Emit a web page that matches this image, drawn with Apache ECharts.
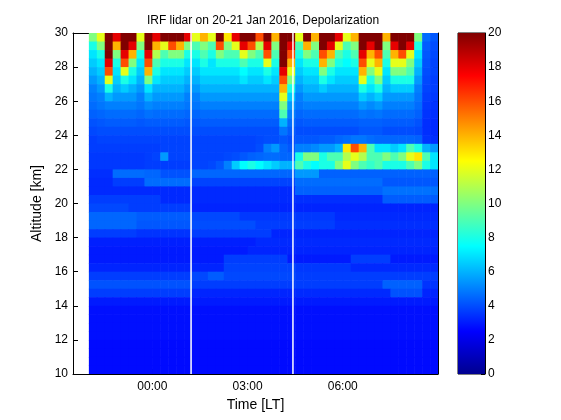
<!DOCTYPE html>
<html>
<head>
<meta charset="utf-8">
<script src="https://cdn.jsdelivr.net/npm/echarts@6/dist/echarts.min.js"></script>
<style>html,body{margin:0;background:#fff}#chart{width:561px;height:420px}</style>
</head>
<body>
<div id="chart"></div>
<script>
// time bins (hours from midnight, LT), 15 min wide, start of each bin
var times = [-2,-1.75,-1.5,-1.25,-1,-0.75,-0.5,-0.25,0,0.25,
  0.5,0.75,1,1.25,1.5,1.75,2,2.25,2.5,2.75,
  3,3.25,3.5,3.75,4,4.25,4.5,4.75,5,5.25,
  5.5,5.75,6,6.25,6.5,6.75,7,7.25,7.5,7.75,
  8,8.25,8.5,8.75]
var dT = 0.25
// altitude bins (km), bottom of each bin, top row first
var alts = [29.5,29,28.5,28,27.5,27,26.5,26,25.5,25,
  24.5,24,23.5,23,22.5,22,21.5,21,20.5,20,
  19.5,19,18.5,18,17.5,17,16.5,16,15.5,15,
  14.5,14,13.5,13,12.5,12,11.5,11,10.5,10]
var dAlt = 0.5
// gaps in the record (hours)
var gapTimes = [1.22, 4.43]
var xTicks = [0, 3, 6]
var cbarTicks = [0, 20]

// depolarization, one row per altitude bin (same order as alts)
var depol = [
  [10,12,20,18,20,20,12,20,18,20, 20,20,18,12,14,12,20,13,18,20, 20,16,20,14,20,20,12,20,14,20, 20,18,12,14,20,20,20,14,20,20, 20,10,4.6,4.2],
  [8,10,20,14,20,18,10,20,14,12, 16,14,10,9,10,9,16,10,12,18, 16,11,18,10,20,18,9,14,10,20, 18,12,9,10,20,18,20,10,18,20, 18,8,4.3,4],
  [7,8,20,10,18,14,8,18,11,9, 10,10,8,8,9,8,10,9,9,12, 10,9,16,9,20,16,8,10,9,16, 14,9,8,9,18,14,16,9,14,16, 12,7,4.2,3.9],
  [6.5,7,18,8,16,10,7,16,9,8, 8,8,7,7,8,7,8,8,8,9, 8,8,12,8,20,14,7,8,8,14, 10,8,7.5,8,16,12,14,8,12,12, 10,6.5,4.1,3.8],
  [6,6.5,16,7,12,8,6.5,14,8,7, 7,7,6.5,6.5,7,7,7,7,7,7.5, 7,7,8,7,18,12,6.5,7,7,10, 8,7,7,7,14,10,12,7,10,10, 9,6,4,3.8],
  [5.5,6,12,6.5,8,7,6,10,7,6.5, 6.5,6.5,6,6,6.5,6.5,6.5,6.5,6.5,7, 6.5,6.5,7,6.5,16,10,6,6.5,6.5,8, 7,6.5,6.5,6.5,12,8,10,6.5,8,8, 8,5.5,3.9,3.7],
  [5,5.5,8,6,6.5,6,5.5,7,6,6, 6,6,5.5,5.5,6,6,6,6,6,6, 6,6,6,6,14,8,5.5,6,6,6.5, 6,6,6,6,8,7,8,6,6.5,6.5, 6.5,5,3.8,3.7],
  [4.8,5,6,5.5,5.5,5.5,5,6,5.5,5.5, 5.5,5.5,5,5,5.5,5.5,5.5,5.5,5.5,5.5, 5.5,5.5,5.5,5.5,12,6.5,5,5.5,5.5,5.5, 5.5,5.5,5.5,5.5,6.5,6,6.5,5.5,5.5,5.5, 5.5,4.8,3.7,3.6],
  [4.6,4.8,5,5,5,5,4.8,5.2,5,5, 5,5,4.8,4.8,5,5,5,5,5,5, 5,5,5,5,10,5.5,4.8,5,5,5, 5,5,5,5,5.5,5.2,5.5,5,5,5, 5,4.6,3.6,3.5],
  [4.4,4.5,4.6,4.6,4.6,4.6,4.5,4.7,4.6,4.6, 4.6,4.6,4.5,4.5,4.6,4.6,4.6,4.6,4.6,4.6, 4.6,4.6,4.6,4.6,9,5,4.5,4.6,4.6,4.6, 4.6,4.6,4.6,4.6,4.8,4.7,4.8,4.6,4.6,4.6, 4.6,4.4,3.5,3.4],
  [4.1,4.2,4.3,4.3,4.3,4.3,4.2,4.3,4.3,4.3, 4.3,4.3,4.2,4.2,4.3,4.3,4.3,4.3,4.3,4.3, 4.3,4.3,4.3,4.3,6,4.6,4.2,4.3,4.3,4.3, 4.3,4.3,4.3,4.3,4.4,4.4,4.4,4.3,4.3,4.3, 4.3,4.1,3.4,3.3],
  [3.9,4,4,4,4,4,4,4,4,4, 4,4,4,4,4,4,4,4,4,4, 4,4,4,4,4.8,4.3,4,4,4,4, 4,4,4,4,4.2,4.2,4.2,4,4,4, 4,3.9,3.4,3.3],
  [3.7,3.8,3.8,3.8,3.8,3.8,3.8,3.8,3.8,3.8, 3.8,3.8,3.8,3.8,3.8,3.8,3.8,3.8,3.8,3.8, 3.8,3.9,4,4,4.2,4,4.2,4.2,4.2,4.3, 4.3,4.5,4.6,4.8,4.8,4.6,4.5,4.5,4.5,4.5, 4.5,4.4,3.5,3.4],
  [3.7,3.7,3.7,3.7,3.7,3.7,3.7,3.7,3.7,3.8, 3.8,3.8,3.8,3.8,3.8,3.8,3.8,3.8,3.8,3.8, 3.8,4,5,5.5,4.5,4.2,5,5,5.2,5.5, 5.5,6,13,16,14,9,7,7,6.5,7, 9,8,6,5.5],
  [3.6,3.6,3.6,3.6,3.6,3.6,3.6,3.7,3.8,5.5, 3.8,3.8,3.8,3.8,3.8,3.8,3.8,3.9,4,4.2, 4.4,4.5,4.6,4.6,4.5,4.5,8,10,10,8, 9,9,11,12,11,9,9,10,9,10, 12,13,9,7],
  [3.6,3.6,3.6,3.6,3.6,3.6,3.6,3.7,3.7,3.7, 3.7,3.7,3.7,3.8,3.8,3.9,4.2,5,6.5,7.5, 8,7.5,7,6.5,6,6,9,8,7.5,8, 8,10,12,10,9,8.5,9,8,8,8, 9,10,8,7],
  [3.4,3.4,3.4,4.6,4.6,4.6,4.6,4.5,4.5,4.1, 4.1,4.1,4.1,4.5,4.5,4.5,4.5,4.5,4.5,4.5, 4.5,4.5,4.5,4.5,4.5,4.5,5.5,5.5,5.5,4.4, 4.4,4.4,4.4,4.4,4.4,4.4,4.4,4.4,4.4,4.4, 4.4,4.4,4.4,4.4],
  [3.3,3.3,3.3,3.7,3.7,3.7,3.7,4.6,4.6,4.6, 4.6,4.6,4.6,3.8,3.8,3.8,3.8,3.8,3.8,3.8, 3.8,3.8,3.8,3.8,3.8,3.8,4.6,4.6,4.6,4.6, 4.6,4.6,4.6,4.6,4.6,4.6,4.6,4.2,4.2,4.2, 4.2,4.2,4.2,4.2],
  [3.3,3.3,3.3,3.3,3.3,3.3,3.3,3.3,3.3,3.3, 3.3,3.3,3.3,3.3,3.3,3.3,3.3,3.3,3.3,3.3, 3.3,3.3,3.3,3.3,3.3,3.3,4.4,4.4,4.4,4.4, 4.4,4.4,4.4,4.4,4.4,4.4,4.4,4.7,4.7,4.7, 4.7,4.7,4.7,4.7],
  [3.7,3.7,3.7,3.7,3.7,3.7,3.7,3.7,3.7,3.3, 3.3,3.3,3.3,3.3,3.3,3.3,3.3,3.3,3.3,3.3, 3.3,3.3,3.3,3.3,3.3,3.3,3.4,3.4,3.4,3.4, 3.4,3.4,3.4,3.4,3.4,3.4,3.4,4.3,4.3,4.3, 4.3,4.3,4.3,4.3],
  [3.9,3.9,3.9,3.9,3.9,3.7,3.7,3.7,3.7,3.7, 3.7,3.7,3.7,3.2,3.2,3.2,3.2,3.2,3.2,3.2, 3.2,3.2,3.2,3.2,3.2,3.2,3.2,3.2,3.2,3.2, 3.2,3.2,3.2,3.2,3.2,3.2,3.2,3.2,3.2,3.2, 3.2,3.2,3.2,3.2],
  [4.5,4.5,4.5,4.5,4.5,4.5,4.3,4.3,4.3,4.3, 4.3,4.3,4.3,3.9,3.9,3.9,3.9,3.9,3.9,3.6, 3.6,3.6,3.6,3.6,3.6,3.6,3.6,3.6,3.6,3.6, 3.6,3.3,3.3,3.3,3.3,3.3,3.3,3.3,3.3,3.3, 3.3,3.3,3.3,3.3],
  [4.5,4.5,4.5,4.5,4.5,4.5,4.2,4.2,4.2,4.2, 4.2,4.2,4.2,4,4,4,4,4,4,4, 4,3.7,3.7,3.7,3.7,3.7,3.7,3.7,3.7,3.7, 3.7,3.4,3.4,3.4,3.4,3.4,3.4,3.4,3.4,3.4, 3.4,3.4,3.4,3.4],
  [3.7,3.7,3.7,3.7,3.7,3.7,3.5,3.5,3.5,3.5, 3.5,3.5,3.5,3.7,3.7,3.7,3.7,3.7,3.7,3.7, 3.7,3.7,3.7,3.2,3.2,3.2,3.2,3.2,3.2,3.2, 3.2,3.2,3.2,3.2,3.2,3.2,3.2,3.2,3.2,3.2, 3.2,3.2,3.2,3.2],
  [3.1,3.1,3.1,3.1,3.1,3.1,3.1,3.1,3.1,3.1, 3.1,3.1,3.1,3.1,3.1,3.1,3.1,3.1,3.1,3.1, 3.1,3.3,3.3,3.3,3.3,3.3,3.3,3.3,3.3,3.3, 3.3,3.3,3.3,3.3,3.3,3.3,3.3,3.3,3.3,3.3, 3.3,3.3,3.3,3.3],
  [3,3,3,3,3,3,3,3,3,3, 3,3,3,3,3,3,3,3,3,3, 3.2,3.2,3.2,3.2,3.2,3.2,3.2,3.2,3.2,3.2, 3.2,3.2,3.2,3.2,3.2,3.2,3.2,3.2,3.2,3.2, 3.2,3.2,3.2,3.2],
  [3,3,3,3,3,3,3,3,3,3, 3,3,3,3,3,3,3,3.7,3.7,3.7, 3.7,3.7,3.7,3.7,3.7,3,3,3,3,3, 3,3,3,3.7,3.7,3.7,3.7,3.7,3,3, 3,3,3,3],
  [3.2,3.2,3.2,3.2,3.2,3.2,3.2,3.2,3.2,3.2, 3.2,3.2,3.2,3.2,3.2,3.2,3.2,3.8,3.8,3.8, 3.8,3.8,3.8,3.8,3.8,3.8,3.6,3.6,3.6,3.6, 3.6,3.6,3.6,3.3,3.3,3.3,3.3,3.3,3.3,3.3, 3.3,3.3,3.3,3.3],
  [3.7,3.7,3.7,3.7,3.7,3.7,3.7,3.7,3.7,3.7, 3.7,3.7,3.7,3.9,3.9,4.3,4.3,3.9,3.9,3.9, 3.9,3.9,3.9,3.9,3.9,3.9,3.7,3.7,3.7,3.7, 3.7,3.7,3.7,3.7,3.7,3.7,3.7,3.7,3.7,3.7, 3.7,3.7,3.7,3.7],
  [4.1,4.1,4.1,4.1,4.1,4.1,4.1,4.1,4.1,4.1, 4.1,4.1,4.1,3.7,3.7,3.7,3.7,3.7,3.7,3.7, 3.7,3.7,3.7,3.7,3.7,3.7,3.7,3.7,3.7,3.7, 3.7,3.7,3.7,3.7,3.7,3.7,3.7,4.4,4.4,4.4, 4.4,4.4,3.5,3.5],
  [3.7,3.7,3.7,3.7,3.7,3.7,3.7,3.7,3.7,3.7, 3.7,3.7,3.7,3.2,3.2,3.2,3.2,3.2,3.2,3.2, 3.2,3.2,3.2,3.2,3.2,3.2,3.3,3.3,3.3,3.3, 3.3,3.3,3.3,3.3,3.3,3.3,3.3,3.3,4.1,4.1, 4.1,4.1,3.2,3.2],
  [3,3,3,3,3,3,3,3,3,3, 3,3,3,3,3,3,3,3,3,3, 3,3,3,3,3,3,3,3,3,3, 3,3,3,3,3,3,3,3,3,3, 3,3,3,3],
  [2.8,2.8,2.8,2.8,2.8,2.8,2.8,2.8,2.8,2.8, 2.8,2.8,2.8,2.8,2.8,2.8,2.8,2.8,2.8,2.8, 2.8,2.8,2.8,2.8,2.8,2.8,2.8,2.8,2.8,2.8, 2.8,2.8,2.8,2.8,2.8,2.8,2.8,2.8,2.8,2.8, 2.8,2.8,2.8,2.8],
  [2.8,2.8,2.8,2.8,2.8,2.8,2.8,2.8,2.8,2.8, 2.8,2.8,2.8,2.8,2.8,2.8,2.8,2.8,2.8,2.8, 2.8,2.8,2.8,2.8,2.8,2.8,2.8,2.8,2.8,2.8, 2.8,2.8,2.8,2.8,2.8,2.8,2.8,2.8,2.8,2.8, 2.8,2.8,2.8,2.8],
  [2.8,2.8,2.8,2.8,2.8,2.8,2.8,2.8,2.8,2.8, 2.8,2.8,2.8,2.8,2.8,2.8,2.8,2.8,2.8,2.8, 2.8,2.8,2.8,2.8,2.8,2.8,2.8,2.8,2.8,2.8, 2.8,2.8,2.8,2.8,2.8,2.8,2.8,2.8,2.8,2.8, 2.8,2.8,2.8,2.8],
  [2.8,2.8,2.8,2.8,2.8,2.8,2.8,2.8,2.8,2.8, 2.8,2.8,2.8,2.8,2.8,2.8,2.8,2.8,2.8,2.8, 2.8,2.8,2.8,2.8,2.8,2.8,2.8,2.8,2.8,2.8, 2.8,2.8,2.8,2.8,2.8,2.8,2.8,2.8,2.8,2.8, 2.8,2.8,2.8,2.8],
  [2.7,2.7,2.7,2.7,2.7,2.7,2.7,2.7,2.7,2.7, 2.7,2.7,2.7,2.7,2.7,2.7,2.7,2.7,2.7,2.7, 2.7,2.7,2.7,2.7,2.7,2.7,2.7,2.7,2.7,2.7, 2.7,2.7,2.7,2.7,2.7,2.7,2.7,2.7,2.7,2.7, 2.7,2.7,2.7,2.7],
  [2.7,2.7,2.7,2.7,2.7,2.7,2.7,2.7,2.7,2.7, 2.7,2.7,2.7,2.7,2.7,2.7,2.7,2.7,2.7,2.7, 2.7,2.7,2.7,2.7,2.7,2.7,2.7,2.7,2.7,2.7, 2.7,2.7,2.7,2.7,2.7,2.7,2.7,2.7,2.7,2.7, 2.7,2.7,2.7,2.7],
  [2.7,2.7,2.7,2.7,2.7,2.7,2.7,2.7,2.7,2.7, 2.7,2.7,2.7,2.7,2.7,2.7,2.7,2.7,2.7,2.7, 2.7,2.7,2.7,2.7,2.7,2.7,2.7,2.7,2.7,2.7, 2.7,2.7,2.7,2.7,2.7,2.7,2.7,2.7,2.7,2.7, 2.7,2.7,2.7,2.7],
  [2.7,2.7,2.7,2.7,2.7,2.7,2.7,2.7,2.7,2.7, 2.7,2.7,2.7,2.7,2.7,2.7,2.7,2.7,2.7,2.7, 2.7,2.7,2.7,2.7,2.7,2.7,2.7,2.7,2.7,2.7, 2.7,2.7,2.7,2.7,2.7,2.7,2.7,2.7,2.7,2.7, 2.7,2.7,2.7,2.7]
]

var jet = ['#00008f','#0000ff','#0080ff','#00ffff','#80ff80','#ffff00','#ff8000','#ff0000','#800000']
var FONT = '"Liberation Sans", Arial, sans-serif'

var cells = []
depol.forEach((row,i)=>row.forEach((v,j)=>cells.push([times[j], alts[i], v])))

var pad2 = v=>(v<10?'0':'')+v+':00'
var tickStyle = {show:true, inside:true, length:5, lineStyle:{color:'#000'}}
var lineStyle = {show:true, onZero:false, lineStyle:{color:'#000', width:1}}
var lbl = {color:'#000', fontSize:12, fontFamily:FONT}

var chart = echarts.init(document.getElementById('chart'), null, {renderer:'canvas'})
chart.setOption({
  animation:false,
  backgroundColor:'#fff',
  title:{text:'IRF lidar on 20-21 Jan 2016, Depolarization', left:258, top:10, textAlign:'center',
    textStyle:{fontSize:12, fontWeight:'normal', color:'#000', fontFamily:FONT}},
  grid:[
    {left:73, top:33, width:365, height:341},
    {left:458, top:33, width:27, height:341, show:true, borderColor:'#000', borderWidth:1, backgroundColor:'transparent'}
  ],
  xAxis:[
    {gridIndex:0, type:'value', min:-2.5, max:9, position:'bottom', splitLine:{show:false},
      axisLine:lineStyle, axisTick:Object.assign({customValues:xTicks}, tickStyle),
      axisLabel:Object.assign({customValues:xTicks, margin:7, formatter:pad2}, lbl),
      name:'Time [LT]', nameLocation:'middle', nameGap:24,
      nameTextStyle:{color:'#000', fontSize:14, fontFamily:FONT}},
    {gridIndex:0, type:'value', min:-2.5, max:9, position:'top', splitLine:{show:false},
      axisLine:lineStyle, axisTick:Object.assign({customValues:xTicks}, tickStyle), axisLabel:{show:false}},
    {gridIndex:1, type:'value', min:0, max:1, show:false}
  ],
  yAxis:[
    {gridIndex:0, type:'value', min:10, max:30, interval:2, position:'left', splitLine:{show:false},
      axisLine:lineStyle, axisTick:tickStyle, axisLabel:Object.assign({margin:5}, lbl),
      name:'Altitude [km]', nameLocation:'middle', nameGap:26,
      nameTextStyle:{color:'#000', fontSize:14, fontFamily:FONT}},
    {gridIndex:0, type:'value', min:10, max:30, interval:2, position:'right', splitLine:{show:false},
      axisLine:lineStyle, axisTick:tickStyle, axisLabel:{show:false}},
    {gridIndex:1, type:'value', min:0, max:20, interval:2, position:'right', splitLine:{show:false},
      axisLine:lineStyle, axisTick:{show:true, inside:true, length:4, lineStyle:{color:'#000'}},
      axisLabel:Object.assign({margin:3}, lbl)}
  ],
  visualMap:{show:false, type:'continuous', min:0, max:20, dimension:2, seriesIndex:0, inRange:{color:jet}},
  series:[
    {type:'custom', xAxisIndex:0, yAxisIndex:0, data:cells, clip:true, encode:{x:0, y:1},
      renderItem:(params, api)=>{
        var p0 = api.coord([api.value(0), api.value(1)+dAlt])
        var p1 = api.coord([api.value(0)+dT, api.value(1)])
        return {type:'rect', shape:{x:p0[0], y:p0[1], width:p1[0]-p0[0]+0.6, height:p1[1]-p0[1]+0.6},
          style:{fill:api.visual('color')}}
      }},
    {type:'custom', xAxisIndex:0, yAxisIndex:0, data:gapTimes.map(t=>[t]), clip:true, encode:{x:0},
      renderItem:(params, api)=>{
        var p0 = api.coord([api.value(0), 30])
        var p1 = api.coord([api.value(0), 10])
        return {type:'line', shape:{x1:p0[0], y1:p0[1], x2:p1[0], y2:p1[1]},
          style:{stroke:'#fff', lineWidth:1.5}}
      }},
    {type:'custom', xAxisIndex:2, yAxisIndex:2, data:[cbarTicks], encode:{y:[0,1]}, z:1,
      renderItem:(params, api)=>{
        var p0 = api.coord([0, api.value(1)])
        var p1 = api.coord([1, api.value(0)])
        var stops = jet.map((c,k)=>({offset:1-k/(jet.length-1), color:c})).reverse()
        return {type:'rect', shape:{x:p0[0], y:p0[1], width:p1[0]-p0[0], height:p1[1]-p0[1]},
          style:{fill:new echarts.graphic.LinearGradient(0,0,0,1,stops)}}
      }}
  ]
})
</script>
</body>
</html>
